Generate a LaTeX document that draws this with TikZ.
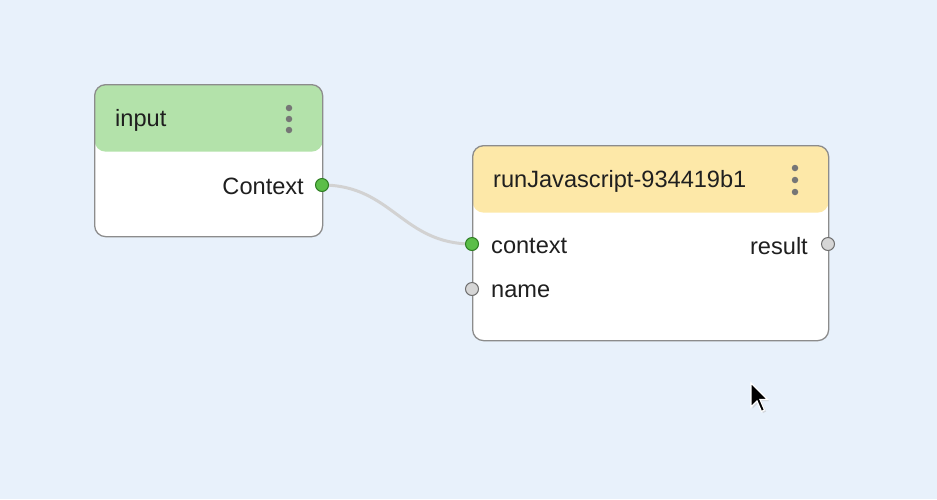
\documentclass[tikz,border=0pt]{standalone}
\usepackage{fontspec}
\setmainfont{Liberation Sans}
\pgfdeclarelayer{back}
\pgfdeclarelayer{edges}
\pgfsetlayers{back,edges,main}
\definecolor{bgc}{HTML}{E8F1FB}
\definecolor{hdrgreen}{HTML}{B3E2AA}
\definecolor{hdryellow}{HTML}{FDE8A8}
\definecolor{bordc}{HTML}{8C8C8C}
\definecolor{portgreen}{HTML}{5BBE48}
\definecolor{portgreenb}{HTML}{2F7D24}
\definecolor{portgray}{HTML}{D6D6D6}
\definecolor{portgrayb}{HTML}{6E6E6E}
\definecolor{edgec}{HTML}{D2D2D2}
\definecolor{dotc}{HTML}{767676}
\tikzset{
  x=1pt, y=-1pt,
  txt/.style={font=\fontsize{23.6}{28}\selectfont, text=black!88, inner sep=0pt},
  card/.style n args={3}{draw=bordc, line width=1.3pt, rounded corners=11pt, fill=white,
    minimum width=#1, minimum height=#2, inner sep=0pt,
    path picture={\fill[#3] (path picture bounding box.north west) rectangle ([yshift=-67pt]path picture bounding box.north east);}},
  portg/.style={circle, draw=portgreenb, fill=portgreen, line width=1pt, minimum size=13pt, inner sep=0pt},
  portn/.style={circle, draw=portgrayb, fill=portgray, line width=1pt, minimum size=13pt, inner sep=0pt},
  menudot/.style={circle, fill=dotc, minimum size=6.5pt, inner sep=0pt},
}
\begin{document}
\begin{tikzpicture}
\begin{pgfonlayer}{back}
\fill[bgc] (0,0) rectangle (937,499);
\end{pgfonlayer}
\useasboundingbox (0,0) rectangle (937,499);

% input card
\node[card={228pt}{152pt}{hdrgreen}, anchor=north west] (inputcard) at (94,84) {};
\node[txt, anchor=west] (inputtitle) at (115,120) {input};
\node[menudot] (d1) at (289,108) {};
\node[menudot] (d2) at (289,119) {};
\node[menudot] (d3) at (289,130) {};
\node[txt, anchor=east] (ctxout) at (304,186) {Context};
\node[portg] (pctxout) at (322,185) {};

% runJavascript card
\node[card={356pt}{195pt}{hdryellow}, anchor=north west] (runcard) at (472,145) {};
\node[txt, anchor=west] (runtitle) at (493,181) {runJavascript-934419b1};
\node[menudot] (e1) at (795,168) {};
\node[menudot] (e2) at (795,180) {};
\node[menudot] (e3) at (795,192) {};
\node[txt, anchor=west] (ctxin) at (491,246) {context};
\node[portg] (pctxin) at (472,244) {};
\node[txt, anchor=west] (namein) at (491,291) {name};
\node[portn] (pname) at (472,289) {};
\node[txt, anchor=east] (resout) at (808,246) {result};
\node[portn] (pres) at (828,244) {};

% edge
\begin{pgfonlayer}{edges}
\draw[edgec, line width=3pt] (pctxout.center) .. controls +(70,0) and +(-70,0) .. (pctxin.center);
\end{pgfonlayer}

% mouse cursor
\begin{scope}[shift={(751,383)}, scale=1.5]
\fill[black!25, opacity=0.5] (1,1) -- (1,17) -- (5,13) -- (8,20) -- (10,19) -- (7,12) -- (12,12) -- cycle;
\filldraw[fill=black, draw=white, line width=1.2pt, line join=miter] (0,0) -- (0,16) -- (4,12) -- (7,19) -- (9,18) -- (6,11) -- (11,11) -- cycle;
\end{scope}
\end{tikzpicture}
\end{document}
